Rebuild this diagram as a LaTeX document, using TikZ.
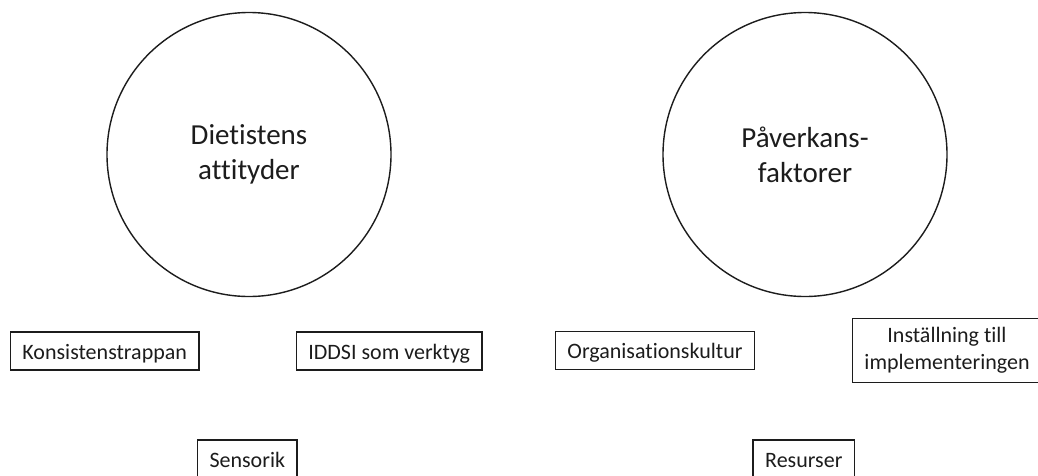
\documentclass[tikz,border=0pt]{standalone}
\usepackage{fontspec}
\setmainfont{Carlito}[RawFeature={-liga;-clig}]
\definecolor{ink}{HTML}{1C1C1C}
\begin{document}
\begin{tikzpicture}[x=1pt,y=-1pt,
  theme/.style={circle, draw=ink, line width=1.4pt, minimum size=284pt, inner sep=0pt,
    align=center, text=ink, font=\fontsize{29}{35}\selectfont},
  factor/.style={draw=ink, line width=1.5pt, inner xsep=12pt, inner ysep=0pt,
    minimum height=38pt, text height=16.4pt, text depth=0pt, text=ink,
    font=\fontsize{22}{26.4}\selectfont},
  factortwo/.style={draw=ink, line width=1.5pt, inner xsep=12pt, inner ysep=0pt,
    minimum height=64pt, align=center, text=ink,
    font=\fontsize{22}{26.4}\selectfont}]
  \useasboundingbox (0,0) rectangle (1038,475);
  \clip (0,0) rectangle (1038,475);

  % two themes
  \node[theme] (attityder) at (249,154.5) {Dietistens\\attityder};
  \node[theme] (paverkan) at (805,154.5) {Påverkans-\\faktorer};

  % sub-themes of the dietitian's attitudes
  \node[factor] (konsistens) at (104.7,350.8) {Konsistenstrappan};
  \node[factor] (iddsi) at (389.2,350.8) {IDDSI som verktyg};
  \node[factor] (sensorik) at (247.3,459) {Sensorik};

  % influencing factors
  \node[factor] (organisation) at (655,350.6) {Organisationskultur};
  \node[factortwo] (installning) at (947,350.4) {Inställning till\\implementeringen};
  \node[factor] (resurser) at (803.8,459) {Resurser};
\end{tikzpicture}
\end{document}
